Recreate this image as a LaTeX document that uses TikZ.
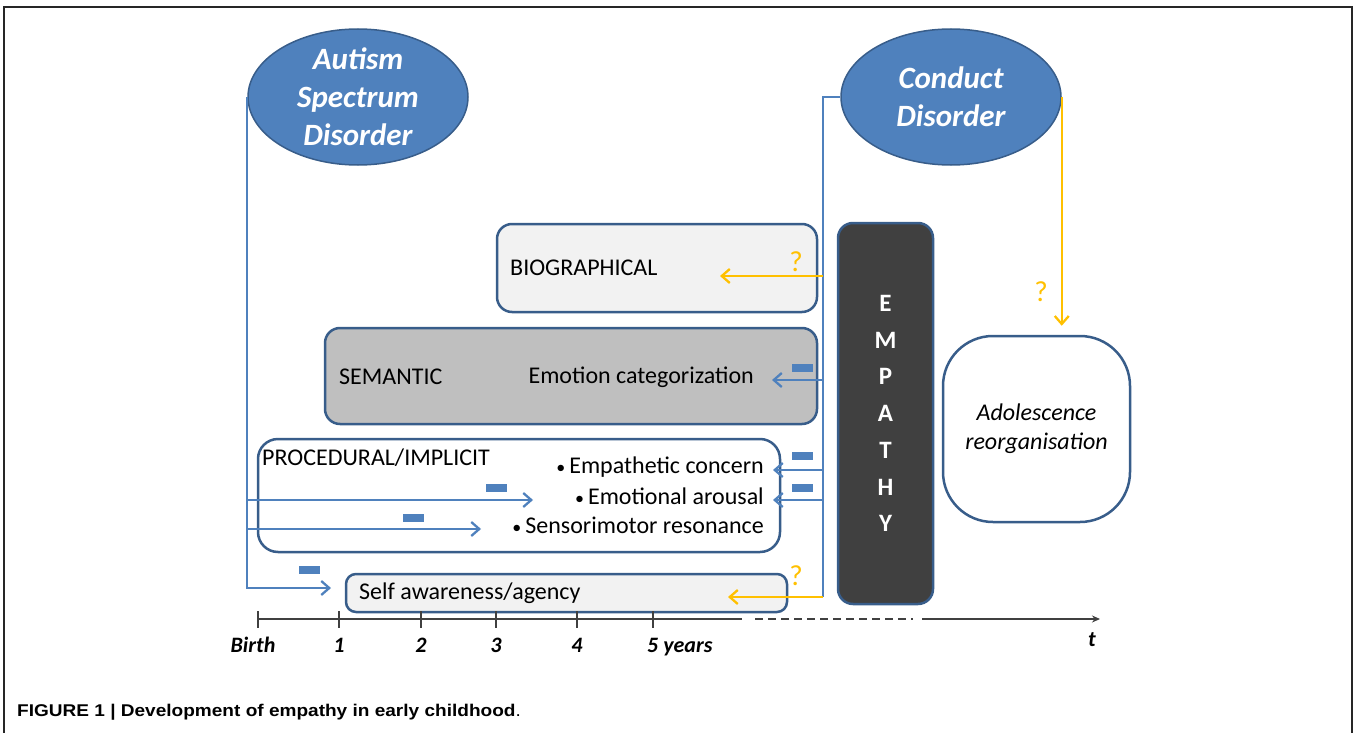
\documentclass[tikz,border=0pt]{standalone}
\usepackage{fontspec}
\setmainfont{Carlito}
\newfontfamily\capfont[FakeStretch=1.12]{Liberation Sans}
\usetikzlibrary{arrows.meta,shapes.geometric,positioning}
\definecolor{cblue}{HTML}{4F81BD}
\definecolor{cdark}{HTML}{385D8A}
\definecolor{corange}{HTML}{FFC000}
\definecolor{cgrey}{HTML}{404040}
\newcommand{\bul}{{\fontsize{18}{20}\selectfont•}\,}
\begin{document}
\begin{tikzpicture}[x=1pt,y=-1pt,font=\fontsize{24}{29}\selectfont]
\tikzstyle{box}=[draw=cdark,line width=2.5pt,rounded corners=15pt,inner sep=0pt]
\tikzstyle{dis}=[ellipse,draw=cdark,line width=1.5pt,fill=cblue,minimum width=220pt,minimum height=136pt]
\tikzstyle{distext}=[text=white,align=center,inner sep=0pt,font=\fontsize{31}{38}\selectfont\bfseries\itshape]
\tikzstyle{txt}=[inner sep=0pt]
\tikzstyle{bl}=[cblue,line width=2.3pt]
\tikzstyle{og}=[corange,line width=2.3pt]
\tikzstyle{tip}=[-{Straight Barb[length=8pt,width=14pt]}]
\tikzstyle{minus}=[fill=cblue,minimum width=21pt,minimum height=8pt,inner sep=0pt]
\tikzstyle{qm}=[text=corange,inner sep=0pt,font=\fontsize{29}{32}\selectfont]
\tikzstyle{ax}=[cgrey,line width=1.5pt]
\tikzstyle{axlab}=[inner sep=0pt,anchor=base,font=\fontsize{22}{26}\selectfont\bfseries\itshape]
\useasboundingbox (0,0) rectangle (1354,733);
\draw[line width=1.5pt,black!85] (4,733) -- (4,7) -- (1352,7) -- (1352,733);
\node[dis] (asd) at (358,97) {};
\node[distext] (asdt) at (asd) {Autism\\Spectrum\\Disorder};
\node[dis] (cd) at (951,97) {};
\node[distext] (cdt) at (cd) {Conduct\\Disorder};
\node[box,fill=black!5,minimum width=320pt,minimum height=88pt] (bio) at (657,268) {};
\node[box,fill=black!25,minimum width=492pt,minimum height=96pt] (sem) at (571,376) {};
\node[box,fill=white,rounded corners=20pt,minimum width=522pt,minimum height=113pt] (proc) at (519,495.5) {};
\node[box,fill=black!5,rounded corners=10pt,minimum width=441pt,minimum height=38pt] (self) at (566.5,593) {};
\node[box,fill=cgrey,text=white,align=center,minimum width=95pt,minimum height=381pt,
  font=\fontsize{25}{36.7}\selectfont\bfseries] (emp) at (885.5,413.5) {E\\M\\P\\A\\T\\H\\Y};
\node[box,fill=white,rounded corners=50pt,align=center,minimum width=187pt,minimum height=186pt,
  font=\fontsize{24}{29}\selectfont\itshape] (ado) at (1036.5,429) {Adolescence\\reorganisation};
\node[txt,anchor=west] (biot) at (510,268) {BIOGRAPHICAL};
\node[txt,anchor=west] (semt) at (339,377) {SEMANTIC};
\node[txt,anchor=east] (ect) at (754,377) {Emotion categorization};
\node[txt,anchor=west] (proct) at (262,458) {PROCEDURAL/IMPLICIT};
\node[txt,anchor=east] (pct) at (764,467) {\bul Empathetic concern};
\node[txt,anchor=east] (pat) at (764,496) {\bul Emotional arousal};
\node[txt,anchor=east] (srt) at (764,525) {\bul Sensorimotor resonance};
\node[txt,anchor=west] (selft) at (359,593) {Self awareness/agency};
\coordinate (ea) at (533,500);
\coordinate (sr) at (481,529);
\coordinate (sa) at (331,588);
\draw[bl,tip] (asd.west) |- (ea);
\draw[bl,tip] (asd.west) |- (sr);
\draw[bl,tip] (asd.west) |- (sa);
\coordinate (bus) at (823,597);
\coordinate (bq) at (720,276);
\coordinate (ec) at (772,380);
\coordinate (pc) at (773,470);
\coordinate (pa) at (773,500);
\coordinate (sq) at (728,597);
\draw[bl] (cd.west) -| (bus);
\draw[og,tip] (bus |- bq) -- (bq);
\draw[bl,tip] (bus |- ec) -- (ec);
\draw[bl,tip] (bus |- pc) -- (pc);
\draw[bl,tip] (bus |- pa) -- (pa);
\draw[og,tip] (bus) -- (sq);
\draw[og,tip,shorten >=9pt] (cd.east) -- (cd.east |- ado.north);
\node[qm] (q1) at (796,262) {?};
\node[qm] (q2) at (1041,292) {?};
\node[qm] (q3) at (796,576) {?};
\foreach \p [count=\i] in {(802,368),(802,456),(802,488),(496,488),(413,518),(309,570)}
  \node[minus] (m\i) at \p {};
\coordinate (a0) at (258,619);
\coordinate (a1) at (742,619);
\coordinate (a2) at (755,619);
\coordinate (a3) at (913,619);
\coordinate (a4) at (922,619);
\coordinate (a5) at (1100,619);
\draw[ax] (a0) -- (a1);
\draw[ax,dash pattern=on 8pt off 5pt] (a2) -- (a3);
\draw[ax,-{Stealth[length=8pt,width=7pt]}] (a4) -- (a5);
\foreach \x in {258,339,421,496,577,653}
  \draw[ax] (\x,611) -- (\x,628);
\foreach \x/\l in {253/Birth,339/1,421/2,496/3,577/4}
  \node[axlab] (y\x) at (\x,652) {\l};
\node[axlab,anchor=base west] (y5) at (647,652) {5 years};
\node[axlab] (t) at (1092,646) {t};
\node[inner sep=0pt,anchor=base west,font=\capfont\fontsize{17}{20}\selectfont] (cap) at (17,716)
  {\textbf{FIGURE 1 | Development of empathy in early childhood}.};
\end{tikzpicture}
\end{document}
